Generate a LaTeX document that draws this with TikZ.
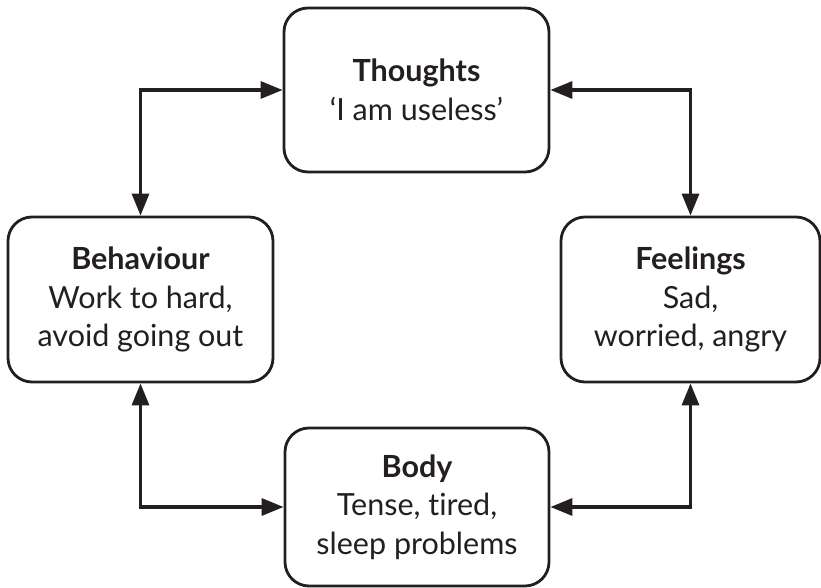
\documentclass[tikz,border=0pt]{standalone}
\usepackage{fontspec}
\setmainfont{Lato}[Ligatures=NoCommon]
\usepackage{tikz}
\usetikzlibrary{arrows.meta, positioning}
\definecolor{ink}{HTML}{231F20}
\tikzset{
  box/.style={draw=ink, line width=2.8pt, rounded corners=24pt, align=center,
    text=ink, inner sep=0pt, font=\fontsize{30.5}{38.5}\selectfont},
  link/.style={draw=ink, line width=3.2pt,
    {Triangle[length=22pt,width=17pt]}-{Triangle[length=22pt,width=17pt]}}
}

\begin{document}
\begin{tikzpicture}[x=1pt, y=-1pt]
  \useasboundingbox (0,0) rectangle (821,588);

  %% the four boxes
  \node[box, minimum width=265pt, minimum height=164pt] (T) at (416.5,90)
      {\textbf{Thoughts}\\‘I am useless’};
  \node[box, minimum width=265pt, minimum height=165pt] (Bh) at (140.5,299.5)
      {\textbf{Behaviour}\\Work to hard,\\avoid going out};
  \node[box, minimum width=259pt, minimum height=165pt] (F) at (690.5,299.5)
      {\textbf{Feelings}\\Sad,\\worried, angry};
  \node[box, minimum width=264pt, minimum height=158pt] (Bd) at (417,507)
      {\textbf{Body}\\Tense, tired,\\sleep problems};

  %% links round the cycle
  \draw[link] (Bh.north) |- (T.west);
  \draw[link] (F.north) |- (T.east);
  \draw[link] (Bh.south) |- (Bd.west);
  \draw[link] (F.south) |- (Bd.east);
\end{tikzpicture}
\end{document}
